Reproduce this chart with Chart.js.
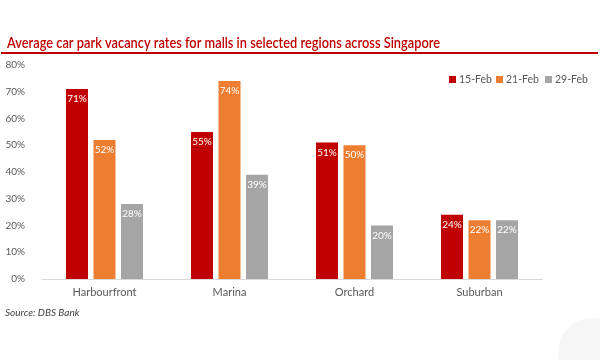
<!DOCTYPE html>
<html>
<head>
<meta charset="utf-8">
<script src="https://cdn.jsdelivr.net/npm/chart.js@4.4.1/dist/chart.umd.min.js"></script>
<style>
  html, body { margin: 0; padding: 0; background: #fff; }
  #wrap { width: 600px; height: 360px; position: relative; }
</style>
</head>
<body>
<div id="wrap"><canvas id="chart" width="600" height="360"></canvas></div>
<script>
const regions = ["Harbourfront", "Marina", "Orchard", "Suburban"];
const dates = ["15-Feb", "21-Feb", "29-Feb"];
const feb15 = [71, 55, 51, 24];
const feb21 = [52, 74, 50, 22];
const feb29 = [28, 39, 20, 22];
const yTicks = [0, 10, 20, 30, 40, 50, 60, 70, 80];

const colors = ["#c00000", "#ed7d31", "#a5a5a5"];
const font = "Lato, 'Open Sans', sans-serif";
const titleText = "Average car park vacancy rates for malls in selected regions across Singapore";

const extras = {
  id: "extras",
  afterDraw(chart) {
    const ctx = chart.ctx;
    ctx.save();
    // title, squeezed to the narrow width of the original
    ctx.fillStyle = "#c00000";
    ctx.font = "600 15px " + font;
    ctx.textBaseline = "alphabetic";
    ctx.textAlign = "left";
    const w = ctx.measureText(titleText).width;
    ctx.save();
    ctx.translate(7, 48);
    ctx.scale(433 / w, 1);
    ctx.fillText(titleText, 0, 0);
    ctx.restore();
    ctx.fillRect(1, 52, 597, 2);

    // legend
    ctx.font = "10.5px " + font;
    ctx.textBaseline = "middle";
    const lx = [449, 496, 545];
    dates.forEach((d, i) => {
      ctx.fillStyle = colors[i];
      ctx.fillRect(lx[i], 76, 7, 7);
      ctx.fillStyle = "#595959";
      ctx.fillText(d, lx[i] + 10, 80);
    });

    // value labels inside bars
    ctx.font = "10px " + font;
    ctx.textAlign = "center";
    ctx.textBaseline = "top";
    ctx.fillStyle = "#ffffff";
    chart.data.datasets.forEach((ds, i) => {
      chart.getDatasetMeta(i).data.forEach((bar, j) => {
        ctx.fillText(ds.data[j] + "%", bar.x, bar.y + 5);
      });
    });

    // source
    ctx.fillStyle = "#404040";
    ctx.font = "italic 10px " + font;
    ctx.textAlign = "left";
    ctx.textBaseline = "middle";
    ctx.fillText("Source: DBS Bank", 5, 313);

    // faint watermark circle
    ctx.fillStyle = "rgba(0,0,0,0.03)";
    ctx.beginPath();
    ctx.arc(592, 352, 34, 0, Math.PI * 2);
    ctx.fill();
    ctx.restore();
  }
};

new Chart(document.getElementById("chart").getContext("2d"), {
  type: "bar",
  data: {
    labels: regions,
    datasets: [feb15, feb21, feb29].map((vals, i) => ({
      label: dates[i],
      data: vals,
      backgroundColor: colors[i],
      barPercentage: 0.8,
      categoryPercentage: 0.66
    }))
  },
  options: {
    responsive: false,
    animation: false,
    devicePixelRatio: 1,
    layout: { padding: { top: 65, right: 58, bottom: 55, left: 0 } },
    plugins: {
      legend: { display: false },
      tooltip: { enabled: false }
    },
    scales: {
      x: {
        grid: { display: false, drawTicks: false },
        border: { color: "#d9d9d9", width: 1 },
        ticks: { color: "#595959", font: { family: font, size: 11 }, padding: 7 },
        afterFit(s) { s.height = 26; }
      },
      y: {
        min: 0,
        max: 80,
        grid: { display: false },
        border: { display: false },
        afterBuildTicks(s) { s.ticks = yTicks.map(v => ({ value: v })); },
        ticks: {
          color: "#595959",
          font: { family: font, size: 10 },
          padding: 9,
          callback: v => v + "%"
        },
        afterFit(s) { s.width = 42; }
      }
    }
  },
  plugins: [extras]
});
</script>
</body>
</html>
